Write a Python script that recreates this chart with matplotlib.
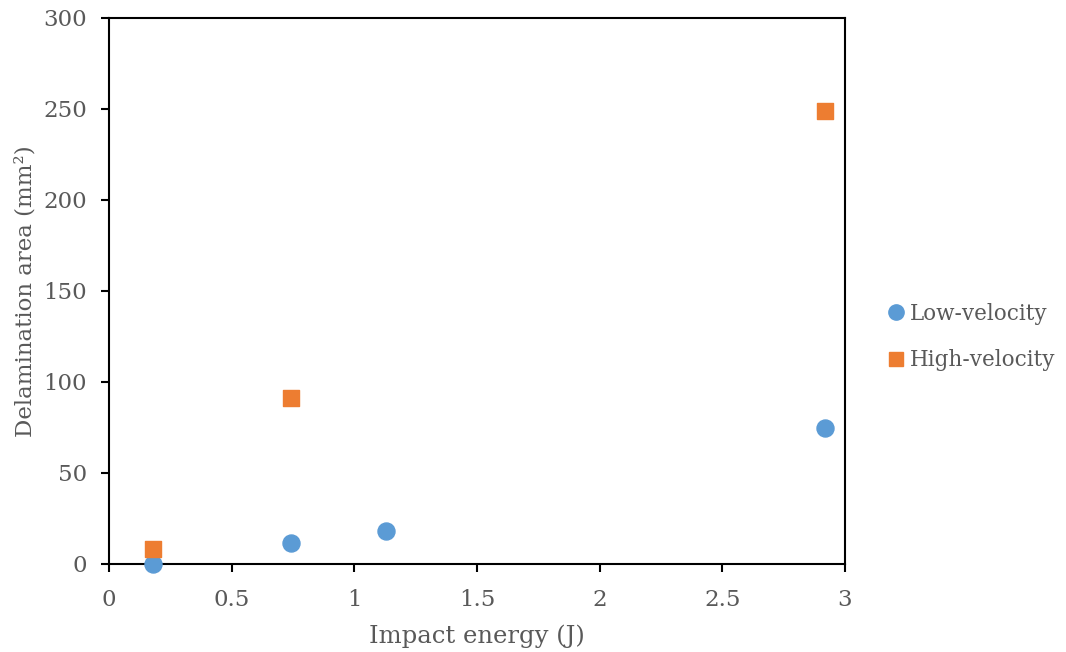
import matplotlib
matplotlib.use("Agg")
import matplotlib.pyplot as plt
from matplotlib.lines import Line2D

# Impact test results
low_energy = [0.18, 0.74, 1.13, 2.92]
low_area = [0.0, 11.5, 18.0, 74.5]
high_energy = [0.18, 0.74, 2.92]
high_area = [8.0, 91.0, 249.0]

x_ticks = [0, 0.5, 1, 1.5, 2, 2.5, 3]
x_ticklabels = ["0", "0.5", "1", "1.5", "2", "2.5", "3"]
y_ticks = [0, 50, 100, 150, 200, 250, 300]

text_color = "#595959"
blue = "#5B9BD5"
orange = "#ED7D31"

plt.rcParams["font.family"] = ["DejaVu Serif"]

fig = plt.figure(figsize=(10.66, 6.52), dpi=100)
ax = fig.add_axes([0.1023, 0.135, 0.6904, 0.8374])

ax.scatter(low_energy, low_area, s=150, marker="o", color=blue, zorder=3, clip_on=False)
ax.scatter(high_energy, high_area, s=140, marker="s", color=orange, zorder=3, clip_on=False)

ax.set_xlim(0, 3)
ax.set_ylim(0, 300)
ax.set_xticks(x_ticks)
ax.set_xticklabels(x_ticklabels)
ax.set_yticks(y_ticks)

for s in ax.spines.values():
    s.set_color("black")
    s.set_linewidth(1.5)

ax.tick_params(axis="both", direction="out", length=6, width=1.5, color="black",
               labelcolor=text_color, labelsize=16.5)
ax.tick_params(axis="y", pad=10)
ax.tick_params(axis="x", pad=12)

ax.set_xlabel("Impact energy (J)", fontsize=17.5, color=text_color, labelpad=10)
ax.set_ylabel("Delamination area (mm²)", fontsize=16.5, color=text_color, labelpad=4.5)

handles = [
    Line2D([], [], linestyle="none", marker="o", markersize=11, color=blue, label="Low-velocity"),
    Line2D([], [], linestyle="none", marker="s", markersize=10, color=orange, label="High-velocity"),
]
fig.legend(handles=handles, loc="center left", bbox_to_anchor=(0.812, 0.483),
           frameon=False, fontsize=15.5, labelcolor=text_color, handletextpad=0.15,
           labelspacing=1.15, handlelength=1.0)

fig.savefig("out.png", dpi=100)
